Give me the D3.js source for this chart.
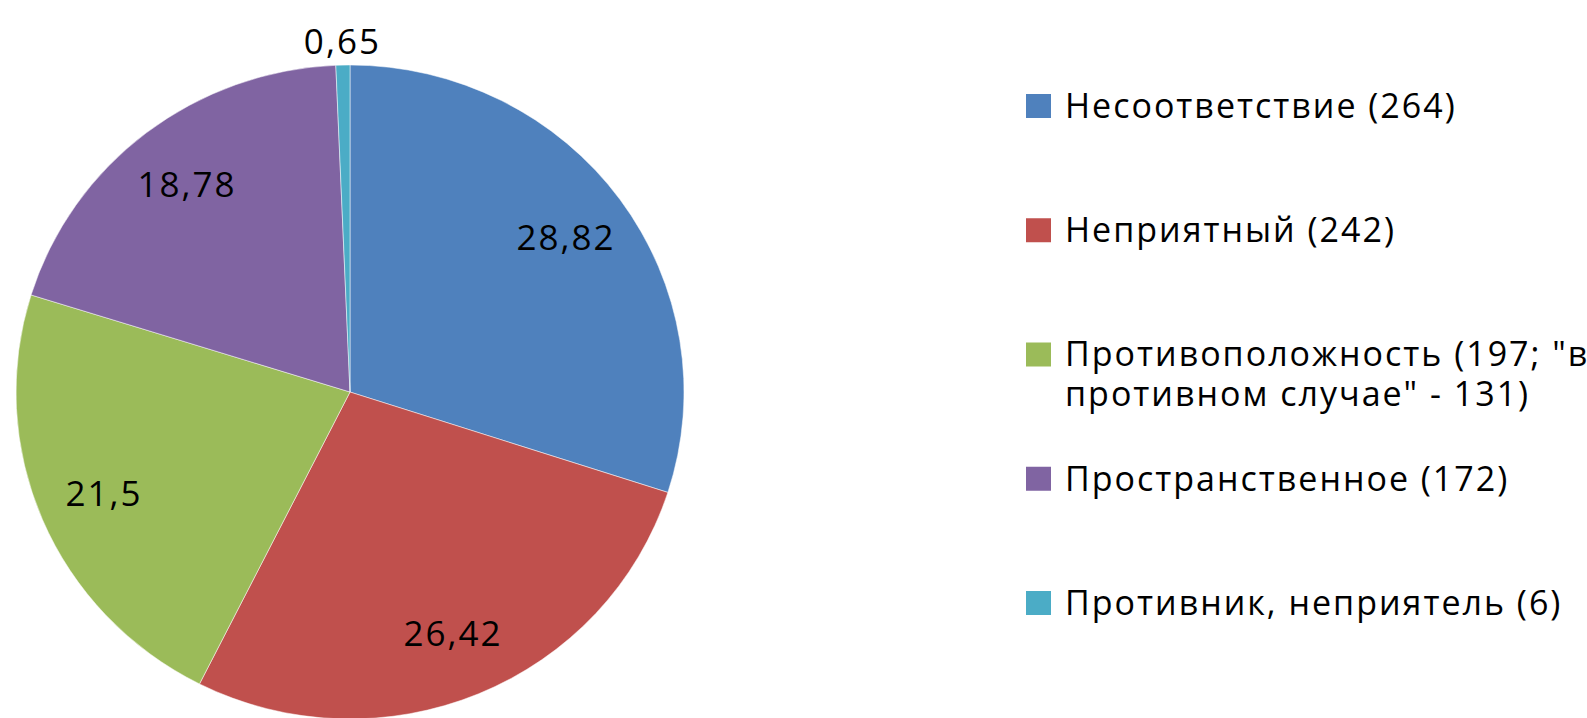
<!DOCTYPE html>
<html>
<head>
<meta charset="utf-8">
<script src="https://cdn.jsdelivr.net/npm/d3@7"></script>
<style>
  html, body { margin: 0; padding: 0; background: #fff; overflow: hidden; }
  svg { display: block; }
  text { font-family: "Open Sans", "Noto Sans", sans-serif; fill: #000; }
</style>
</head>
<body>
<div id="container"></div>
<script>
/* CONSTANTS AND GLOBALS */
const width = 1587;
const height = 718;
const cx = 350, cy = 392;
const rx = 334, ry = 327; // the exported pie is a touch wider than tall

/* DATA */
const categories = ["Несоответствие", "Неприятный", "Противоположность", "Пространственное", "Противник, неприятель"];
const values = [28.82, 26.42, 21.5, 18.78, 0.65];
const valueLabels = ["28,82", "26,42", "21,5", "18,78", "0,65"];
const legendLines = [
  ["Несоответствие (264)"],
  ["Неприятный (242)"],
  ["Противоположность (197; \"в", "противном случае\" - 131)"],
  ["Пространственное (172)"],
  ["Противник, неприятель (6)"]
];
const colors = ["#4F81BD", "#C0504D", "#9BBB59", "#8064A2", "#4BACC6"];

const svg = d3.select("#container")
  .append("svg")
  .attr("width", width)
  .attr("height", height);

const colorScale = d3.scaleOrdinal()
  .domain(categories)
  .range(colors);

const rows = categories.map((c, i) => ({ name: c, value: values[i], label: valueLabels[i] }));

const pie = d3.pie()
  .sort(null)
  .value(d => d.value);

const arc = d3.arc()
  .innerRadius(0)
  .outerRadius(rx);

// labels sit at ~80% radius, the tiny slice gets pushed outside
const labelArc = d3.arc().innerRadius(rx * 0.8).outerRadius(rx * 0.8);
const outerArc = d3.arc().innerRadius(rx * 1.07).outerRadius(rx * 1.07);

const g = svg.append("g")
  .attr("transform", `translate(${cx}, ${cy})`);

const arcs = pie(rows);

g.append("g")
  .attr("transform", `scale(1, ${ry / rx})`)
  .selectAll("path")
  .data(arcs)
  .join("path")
    .attr("d", arc)
    .attr("fill", d => colorScale(d.data.name))
    .attr("stroke", "#ffffff")
    .attr("stroke-opacity", 0.5)
    .attr("stroke-width", 1);

g.selectAll(".val")
  .data(arcs)
  .join("text")
    .attr("class", "val")
    .attr("transform", d => {
      const p = (d.endAngle - d.startAngle) < 0.1 ? outerArc.centroid(d) : labelArc.centroid(d);
      return `translate(${p[0]}, ${p[1] * ry / rx})`;
    })
    .attr("text-anchor", "middle")
    .attr("dy", "0.35em")
    .style("font-size", "35px")
    .style("letter-spacing", "2px")
    .text(d => d.data.label);

/* LEGEND */
const legendX = 1026;
const legendY = d3.scalePoint()
  .domain(categories)
  .range([106, 603]);

const legend = svg.append("g")
  .selectAll("g")
  .data(categories)
  .join("g")
    .attr("transform", d => `translate(${legendX}, ${legendY(d)})`);

legend.append("rect")
  .attr("x", 0)
  .attr("y", -12)
  .attr("width", 25)
  .attr("height", 24)
  .attr("fill", d => colorScale(d));

legend.append("text")
  .attr("x", 39)
  .attr("dy", "0.35em")
  .style("font-size", "34px")
  .style("letter-spacing", "2px")
  .selectAll("tspan")
  .data((d, i) => legendLines[i])
  .join("tspan")
    .attr("x", 39)
    .attr("y", (d, j) => j * 51)
    .text(d => d);
</script>
</body>
</html>
